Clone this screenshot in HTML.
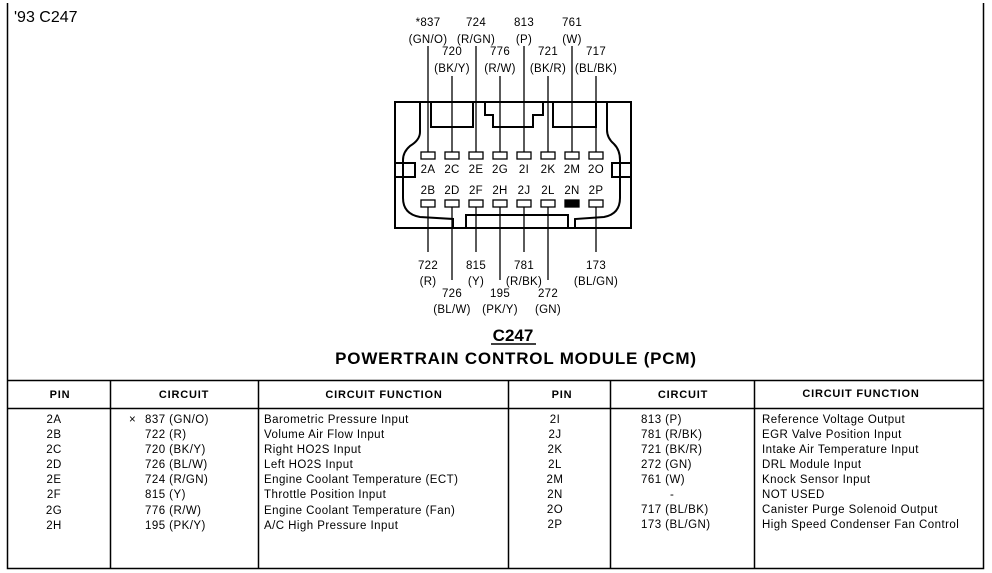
<!DOCTYPE html>
<html><head><style>
html,body{margin:0;padding:0;background:#fff;}
svg{display:block;font-family:"Liberation Sans",Arial,sans-serif;}
</style></head><body>
<svg width="992" height="573" viewBox="0 0 992 573" xmlns="http://www.w3.org/2000/svg">
<rect x="0" y="0" width="992" height="573" fill="#fff"/>
<g stroke="#000" stroke-width="1.5" fill="none">
<path d="M7.5 3V568.5H983.5V3"/>
<line x1="7" y1="380.5" x2="984" y2="380.5"/>
<line x1="7" y1="408.5" x2="984" y2="408.5"/>
<line x1="110.5" y1="380" x2="110.5" y2="568"/>
<line x1="258.5" y1="380" x2="258.5" y2="568"/>
<line x1="508.5" y1="380" x2="508.5" y2="568"/>
<line x1="610.5" y1="380" x2="610.5" y2="568"/>
<line x1="754.5" y1="380" x2="754.5" y2="568"/>
</g>
<g stroke="#000" stroke-width="2" fill="none">
<rect x="395" y="102" width="236" height="126"/>
<path d="M420 102V132Q420 140 410 146Q403 152 403 160V198Q403 214 420 217L453 219V228"/>
<path d="M466 228V215H568V228"/>
<path d="M607 102V130Q607 138 614 144Q620 150 620 160V198Q620 214 604 217L575 219V228"/>
<path d="M431 102V127H473V102"/>
<path d="M485 102V115H493V127H533V115H543V102"/>
<path d="M553 102V127H596V102"/>
<rect x="395" y="163" width="20" height="14"/>
<rect x="612" y="163" width="19" height="14"/>
</g>
<g stroke="#000" stroke-width="1.3" fill="#fff">
<rect x="421" y="152" width="14" height="7"/><rect x="445" y="152" width="14" height="7"/>
<rect x="469" y="152" width="14" height="7"/><rect x="493" y="152" width="14" height="7"/>
<rect x="517" y="152" width="14" height="7"/><rect x="541" y="152" width="14" height="7"/>
<rect x="565" y="152" width="14" height="7"/><rect x="589" y="152" width="14" height="7"/>
<rect x="421" y="200" width="14" height="7"/><rect x="445" y="200" width="14" height="7"/>
<rect x="469" y="200" width="14" height="7"/><rect x="493" y="200" width="14" height="7"/>
<rect x="517" y="200" width="14" height="7"/><rect x="541" y="200" width="14" height="7"/>
<rect x="565" y="200" width="14" height="7" fill="#000"/><rect x="589" y="200" width="14" height="7"/>
</g>
<g stroke="#000" stroke-width="1.3">
<line x1="428" y1="46" x2="428" y2="152"/><line x1="452" y1="76" x2="452" y2="152"/>
<line x1="476" y1="46" x2="476" y2="152"/><line x1="500" y1="76" x2="500" y2="152"/>
<line x1="524" y1="46" x2="524" y2="152"/><line x1="548" y1="76" x2="548" y2="152"/>
<line x1="572" y1="46" x2="572" y2="152"/><line x1="596" y1="76" x2="596" y2="152"/>
<line x1="428" y1="207" x2="428" y2="252"/><line x1="452" y1="207" x2="452" y2="280"/>
<line x1="476" y1="207" x2="476" y2="252"/><line x1="500" y1="207" x2="500" y2="280"/>
<line x1="524" y1="207" x2="524" y2="252"/><line x1="548" y1="207" x2="548" y2="280"/>
<line x1="596" y1="207" x2="596" y2="252"/>
</g>
<g font-size="11.5" text-anchor="middle" fill="#000" letter-spacing="0.3">
<text x="428" y="26">*837</text><text x="428" y="43">(GN/O)</text>
<text x="476" y="26">724</text><text x="476" y="43">(R/GN)</text>
<text x="524" y="26">813</text><text x="524" y="43">(P)</text>
<text x="572" y="26">761</text><text x="572" y="43">(W)</text>
<text x="452" y="55">720</text><text x="452" y="72">(BK/Y)</text>
<text x="500" y="55">776</text><text x="500" y="72">(R/W)</text>
<text x="548" y="55">721</text><text x="548" y="72">(BK/R)</text>
<text x="596" y="55">717</text><text x="596" y="72">(BL/BK)</text>
<text x="428" y="173">2A</text><text x="452" y="173">2C</text><text x="476" y="173">2E</text><text x="500" y="173">2G</text>
<text x="524" y="173">2I</text><text x="548" y="173">2K</text><text x="572" y="173">2M</text><text x="596" y="173">2O</text>
<text x="428" y="194">2B</text><text x="452" y="194">2D</text><text x="476" y="194">2F</text><text x="500" y="194">2H</text>
<text x="524" y="194">2J</text><text x="548" y="194">2L</text><text x="572" y="194">2N</text><text x="596" y="194">2P</text>
<text x="428" y="269">722</text><text x="428" y="285">(R)</text>
<text x="476" y="269">815</text><text x="476" y="285">(Y)</text>
<text x="524" y="269">781</text><text x="524" y="285">(R/BK)</text>
<text x="596" y="269">173</text><text x="596" y="285">(BL/GN)</text>
<text x="452" y="297">726</text><text x="452" y="313">(BL/W)</text>
<text x="500" y="297">195</text><text x="500" y="313">(PK/Y)</text>
<text x="548" y="297">272</text><text x="548" y="313">(GN)</text>
</g>
<text x="14" y="22" font-size="16">'93 C247</text>
<text x="513" y="341" font-size="17" font-weight="bold" text-anchor="middle">C247</text>
<line x1="491" y1="344" x2="536" y2="344" stroke="#000" stroke-width="1.5"/>
<text x="516" y="364" font-size="17" font-weight="bold" text-anchor="middle" letter-spacing="0.8">POWERTRAIN CONTROL MODULE (PCM)</text>
<g font-size="11" font-weight="bold" text-anchor="middle" letter-spacing="0.8">
<text x="60" y="398">PIN</text><text x="184" y="398">CIRCUIT</text><text x="384" y="398">CIRCUIT  FUNCTION</text>
<text x="562" y="398">PIN</text><text x="683" y="398">CIRCUIT</text><text x="861" y="397">CIRCUIT  FUNCTION</text>
</g>
<g font-size="11.5" letter-spacing="0.45">
<g text-anchor="middle">
<text x="54" y="423">2A</text><text x="54" y="438">2B</text><text x="54" y="453">2C</text><text x="54" y="468">2D</text>
<text x="54" y="483">2E</text><text x="54" y="498">2F</text><text x="54" y="514">2G</text><text x="54" y="529">2H</text>
<text x="555" y="423">2I</text><text x="555" y="438">2J</text><text x="555" y="453">2K</text><text x="555" y="468">2L</text>
<text x="555" y="483">2M</text><text x="555" y="498">2N</text><text x="555" y="513">2O</text><text x="555" y="528">2P</text>
</g>
<text x="129" y="423">×</text>
<text x="145" y="423">837  (GN/O)</text><text x="145" y="438">722  (R)</text><text x="145" y="453">720  (BK/Y)</text>
<text x="145" y="468">726  (BL/W)</text><text x="145" y="483">724  (R/GN)</text><text x="145" y="498">815  (Y)</text>
<text x="145" y="514">776  (R/W)</text><text x="145" y="529">195  (PK/Y)</text>
<text x="264" y="423">Barometric Pressure Input</text><text x="264" y="438">Volume Air Flow Input</text>
<text x="264" y="453">Right HO2S Input</text><text x="264" y="468">Left HO2S Input</text>
<text x="264" y="483">Engine Coolant Temperature (ECT)</text><text x="264" y="498">Throttle Position Input</text>
<text x="264" y="514">Engine Coolant Temperature (Fan)</text><text x="264" y="529">A/C High Pressure Input</text>
<text x="641" y="423">813  (P)</text><text x="641" y="438">781  (R/BK)</text><text x="641" y="453">721  (BK/R)</text>
<text x="641" y="468">272  (GN)</text><text x="641" y="483">761  (W)</text><text x="670" y="498">-</text>
<text x="641" y="513">717  (BL/BK)</text><text x="641" y="528">173  (BL/GN)</text>
<text x="762" y="423">Reference Voltage Output</text><text x="762" y="438">EGR Valve Position Input</text>
<text x="762" y="453">Intake Air Temperature Input</text><text x="762" y="468">DRL Module Input</text>
<text x="762" y="483">Knock Sensor Input</text><text x="762" y="498">NOT  USED</text>
<text x="762" y="513">Canister Purge Solenoid Output</text><text x="762" y="528">High Speed Condenser Fan Control</text>
</g>
</svg>
</body></html>
